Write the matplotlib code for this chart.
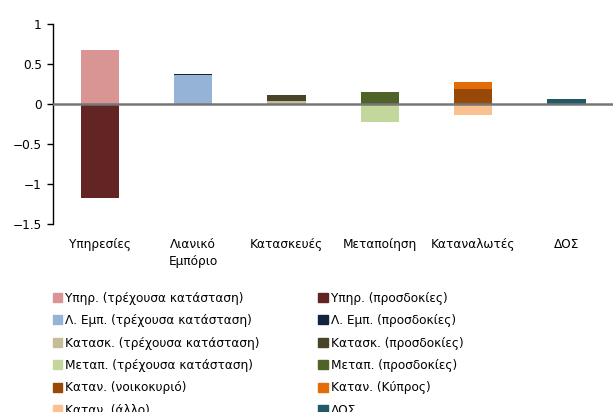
import matplotlib
matplotlib.use("Agg")
import matplotlib.pyplot as plt
import numpy as np
from matplotlib.patches import Patch

categories = ["Υπηρεσίες", "Λιανικό\nΕμπόριο", "Κατασκευές", "Μεταποίηση", "Καταναλωτές", "ΔΟΣ"]

series_names = [
    "Υπηρ. (τρέχουσα κατάσταση)", "Υπηρ. (προσδοκίες)",
    "Λ. Εμπ. (τρέχουσα κατάσταση)", "Λ. Εμπ. (προσδοκίες)",
    "Κατασκ. (τρέχουσα κατάσταση)", "Κατασκ. (προσδοκίες)",
    "Μεταπ. (τρέχουσα κατάσταση)", "Μεταπ. (προσδοκίες)",
    "Καταν. (νοικοκυριό)", "Καταν. (Κύπρος)",
    "Καταν. (άλλο)", "ΔΟΣ",
]
series_values = [
    [0.675, 0, 0, 0, 0, 0],
    [-1.175, 0, 0, 0, 0, 0],
    [0, 0.36, 0, 0, 0, 0],
    [0, 0.012, 0, 0, 0, 0],
    [0, 0, 0.035, 0, 0, 0],
    [0, 0, 0.075, 0, 0, 0],
    [0, 0, 0, -0.225, 0, 0],
    [0, 0, 0, 0.15, 0, 0],
    [0, 0, 0, 0, 0.19, 0],
    [0, 0, 0, 0, 0.085, 0],
    [0, 0, 0, 0, -0.14, 0],
    [0, 0, 0, 0, 0, 0.06],
]
colors = [
    "#D99594", "#632523",
    "#95B3D7", "#10243F",
    "#C4BD97", "#494429",
    "#C3D69B", "#4F6228",
    "#984807", "#E36C09",
    "#FAC090", "#215968",
]

plt.rcParams['font.family'] = ['DejaVu Sans']
fig = plt.figure(figsize=(6.13, 4.12), dpi=100)
ax = fig.add_axes([53 / 613, 188 / 412, 562 / 613, 200 / 412])

x = np.arange(len(categories))
pos_base = np.zeros(len(categories))
neg_base = np.zeros(len(categories))
for name, vals, c in zip(series_names, series_values, colors):
    vals = np.array(vals, dtype=float)
    bottom = np.where(vals >= 0, pos_base, neg_base)
    ax.bar(x, vals, 0.41, bottom=bottom, color=c, label=name, zorder=2)
    pos_base += np.where(vals > 0, vals, 0)
    neg_base += np.where(vals < 0, vals, 0)

ax.axhline(0, color="#767676", lw=1.8, zorder=3)
ax.set_xlim(-0.5, 5.52)
ax.set_ylim(-1.5, 1)
ax.set_yticks([1, 0.5, 0, -0.5, -1, -1.5])
ax.set_yticklabels(["1", "0.5", "0", "\u22120.5", "\u22121", "\u22121.5"])
ax.set_xticks(x)
ax.set_xticklabels(categories, fontsize=8.7, linespacing=1.45)
ax.tick_params(axis="x", length=0, pad=10)
ax.tick_params(axis="y", labelsize=8.7, length=4, width=1, direction="out", pad=4)
for s in ["top", "right", "bottom"]:
    ax.spines[s].set_visible(False)
ax.spines["left"].set_linewidth(1)

# legend, row-wise order -> column-major for matplotlib
handles = [Patch(color=c) for c in colors]
order = list(range(0, 12, 2)) + list(range(1, 12, 2))
fig.legend([handles[i] for i in order], [series_names[i] for i in order],
           ncol=2, loc="upper left", bbox_to_anchor=(43 / 613, 1 - 282 / 412),
           frameon=False, fontsize=8.7, handlelength=0.75, handleheight=0.75,
           handletextpad=0.3, columnspacing=4.85, labelspacing=0.78,
           borderpad=0.3)

fig.savefig("out.png", dpi=100)
